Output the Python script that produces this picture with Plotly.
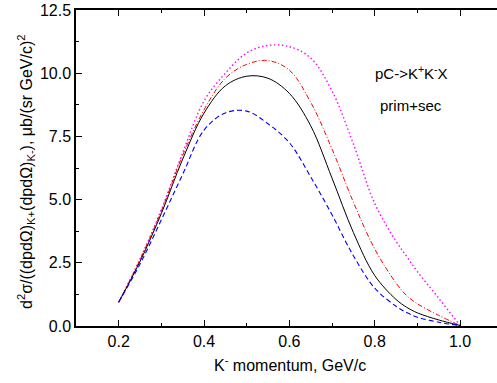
import plotly.graph_objects as go

p = [0.2, 0.25, 0.3, 0.35, 0.4, 0.45, 0.5, 0.55, 0.6, 0.65, 0.7, 0.75, 0.8, 0.85, 0.875, 0.9, 0.95, 1.0]

black = [0.94, 2.55, 4.45, 6.6, 8.42, 9.5, 9.88, 9.8, 9.2, 7.92, 5.85, 3.7, 2.0, 1.05, 0.74, 0.52, 0.24, 0.02]
red = [0.94, 2.62, 4.55, 6.75, 8.55, 9.8, 10.35, 10.5, 10.12, 8.85, 7.0, 4.9, 3.05, 1.7, 1.2, 0.88, 0.42, 0.02]
magenta = [0.94, 2.65, 4.6, 6.85, 8.9, 10.0, 10.8, 11.1, 11.05, 10.6, 9.3, 7.2, 4.85, 3.35, 2.75, 2.15, 1.1, 0.02]
blue = [0.94, 2.45, 4.2, 6.0, 7.75, 8.43, 8.5, 8.0, 7.25, 5.9, 4.4, 2.78, 1.5, 0.78, 0.53, 0.35, 0.15, 0.02]

FONT = "Liberation Sans, Arial, sans-serif"

fig = go.Figure()
for y, col, dash, w in [(magenta, "#ff00ff", "1.5px,2.5px", 1.4), (red, "#ff0000", "5px,2px,1px,2px", 1),
                        (black, "#000000", "solid", 1), (blue, "#0000ff", "5px,3px", 1.1)]:
    fig.add_trace(go.Scatter(x=p, y=y, mode="lines",
                             line=dict(color=col, dash=dash, width=w, shape="spline", smoothing=1.0),
                             showlegend=False))

fig.update_layout(
    width=497, height=383,
    margin=dict(l=76, r=0, t=10, b=57),
    plot_bgcolor="white", paper_bgcolor="white",
    font=dict(family=FONT, size=16, color="black"),
    xaxis=dict(range=[0.1, 1.0866], tickvals=[0.2, 0.4, 0.6, 0.8, 1.0],
               ticktext=["0.2", "0.4", "0.6", "0.8", "1.0"],
               ticks="inside", ticklen=6, tickwidth=1, tickcolor="black",
               minor=dict(dtick=0.1, tick0=0.1, ticks="inside", ticklen=3, tickcolor="black"),
               showline=True, linecolor="black", linewidth=1.5, mirror="ticks",
               showgrid=False, zeroline=False),
    yaxis=dict(range=[0, 12.5], tickvals=[0, 2.5, 5, 7.5, 10, 12.5],
               ticktext=["0.0", "2.5", "5.0", "7.5", "10.0", "12.5"],
               ticks="inside", ticklen=6, tickwidth=1, tickcolor="black",
               minor=dict(dtick=1.25, tick0=0, ticks="inside", ticklen=3, tickcolor="black"),
               showline=True, linecolor="black", linewidth=1.5, mirror=False,
               showgrid=False, zeroline=False),
)

fig.add_annotation(text="pC->K<sup>+</sup>K<sup>-</sup>X", xref="paper", yref="paper",
                   x=(411 - 76) / 421, y=(326 - 73) / 316, showarrow=False,
                   xanchor="center", yanchor="middle", font=dict(size=15))
fig.add_annotation(text="prim+sec", xref="paper", yref="paper",
                   x=(411 - 76) / 421, y=(326 - 105) / 316, showarrow=False,
                   xanchor="center", yanchor="middle", font=dict(size=15))
fig.add_annotation(text="K<sup>-</sup> momentum, GeV/c", xref="paper", yref="paper",
                   x=(290 - 76) / 421, y=(326 - 364) / 316, showarrow=False,
                   xanchor="center", yanchor="middle", font=dict(size=16))
fig.add_annotation(text="d<sup>2</sup>σ/((dpdΩ)<sub>K+</sub>(dpdΩ)<sub>K-</sub>), μb/(sr GeV/c)<sup>2</sup>",
                   xref="paper", yref="paper", textangle=-90,
                   x=(26 - 76) / 421, y=(326 - 172) / 316, showarrow=False,
                   xanchor="center", yanchor="middle", font=dict(size=16))

fig.write_html("out.html")
